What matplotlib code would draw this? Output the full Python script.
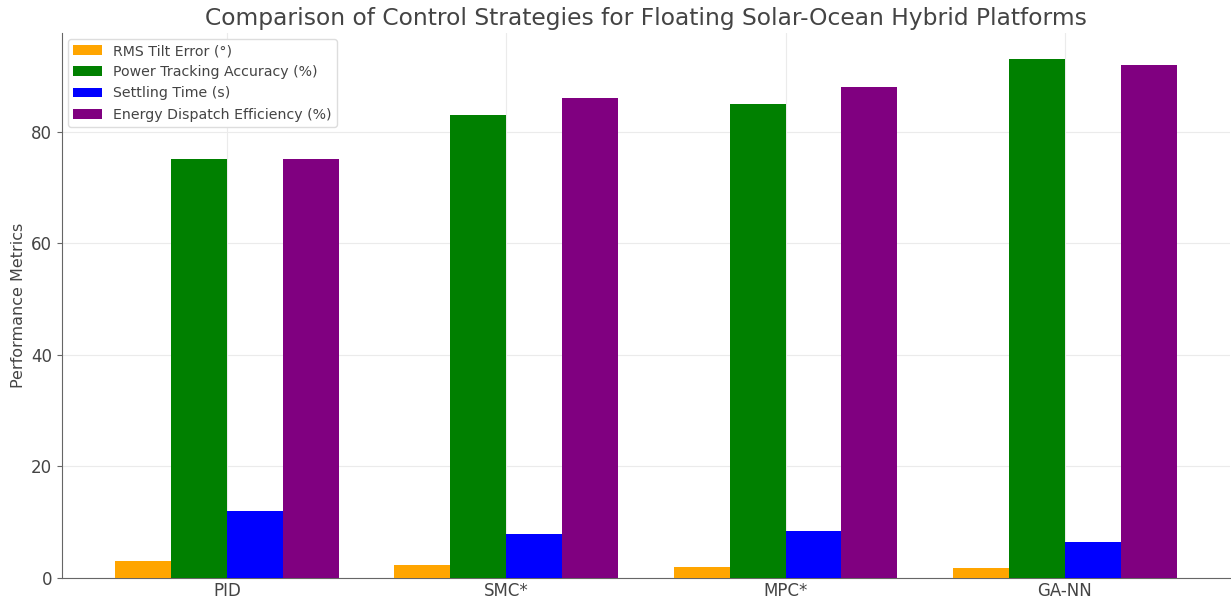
import numpy as np
import matplotlib.pyplot as plt

# control strategies and their metrics
strategies = ["PID", "SMC*", "MPC*", "GA-NN"]
rms_tilt_error = [3.0, 2.3, 2.0, 1.8]
power_tracking = [75, 83, 85, 93]
settling_time = [12, 7.8, 8.5, 6.5]
dispatch_efficiency = [75, 86, 88, 92]

series_labels = ["RMS Tilt Error (°)", "Power Tracking Accuracy (%)",
                 "Settling Time (s)", "Energy Dispatch Efficiency (%)"]
series_colors = ["orange", "green", "blue", "purple"]

text_col = "#444444"
plt.rcParams["font.family"] = "DejaVu Sans"

fig, ax = plt.subplots(figsize=(12.31, 6.03), dpi=100)
fig.subplots_adjust(left=62 / 1231, right=0.999, top=1 - 33 / 603, bottom=1 - 578 / 603)

x = np.arange(len(strategies))
width = 0.2
all_series = [rms_tilt_error, power_tracking, settling_time, dispatch_efficiency]
for i, (vals, lab, col) in enumerate(zip(all_series, series_labels, series_colors)):
    ax.bar(x + (i - 1.5) * width, vals, width, label=lab, color=col, zorder=3)

ax.set_xticks(x)
ax.set_xticklabels(strategies)
ax.set_ylabel("Performance Metrics", fontsize=11.5, color=text_col)
ax.set_title("Comparison of Control Strategies for Floating Solar-Ocean Hybrid Platforms",
             fontsize=16.8, color=text_col, pad=6)

ax.grid(True, color="#ebebeb", linewidth=0.8, zorder=0)
for side in ["top", "right"]:
    ax.spines[side].set_visible(False)
for side in ["left", "bottom"]:
    ax.spines[side].set_color("#666666")
ax.tick_params(colors="#666666", labelcolor=text_col, labelsize=12)
ax.tick_params(axis="x", length=0, pad=3)

leg = ax.legend(loc="upper left", fontsize=10.2, frameon=True, framealpha=1,
                edgecolor="#dddddd", borderaxespad=0.4)
for t in leg.get_texts():
    t.set_color(text_col)

fig.savefig("out.png", dpi=100)
